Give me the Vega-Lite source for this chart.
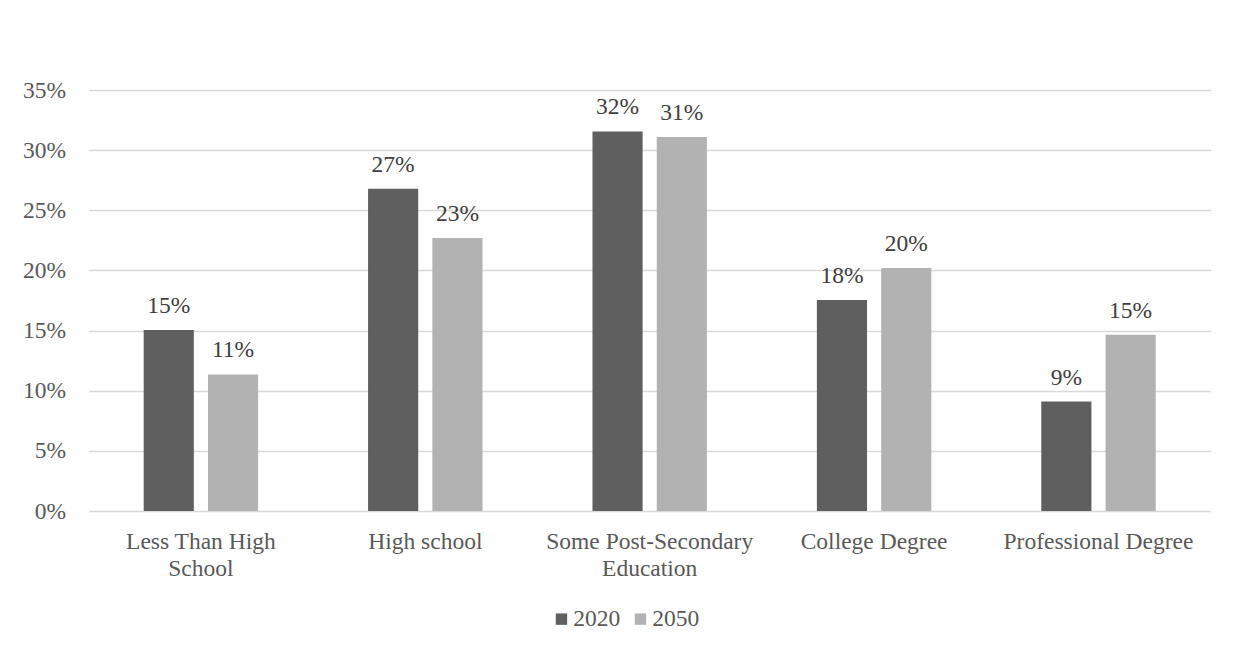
{
  "$schema": "https://vega.github.io/schema/vega-lite/v6.json",
  "autosize": {"type": "none"},
  "width": 1122,
  "height": 421,
  "padding": {"left": 88.7, "top": 90, "right": 23.3, "bottom": 140},
  "background": "#ffffff",
  "data": {
    "values": [
      {"level": "Less Than High School", "year": "2020", "share": 0.1505},
      {"level": "Less Than High School", "year": "2050", "share": 0.1135},
      {"level": "High school", "year": "2020", "share": 0.268},
      {"level": "High school", "year": "2050", "share": 0.227},
      {"level": "Some Post-Secondary Education", "year": "2020", "share": 0.3155},
      {"level": "Some Post-Secondary Education", "year": "2050", "share": 0.311},
      {"level": "College Degree", "year": "2020", "share": 0.1755},
      {"level": "College Degree", "year": "2050", "share": 0.202},
      {"level": "Professional Degree", "year": "2020", "share": 0.091},
      {"level": "Professional Degree", "year": "2050", "share": 0.1465}
    ]
  },
  "encoding": {
    "x": {
      "field": "level",
      "type": "nominal",
      "sort": null,
      "scale": {"paddingInner": 0.49, "paddingOuter": 0.245},
      "axis": {
        "title": null,
        "domain": false,
        "ticks": false,
        "labelAngle": 0,
        "labelPadding": 18,
        "labelLineHeight": 27,
        "labelLimit": 0,
        "labelExpr": "datum.value == 'Less Than High School' ? ['Less Than High', 'School'] : datum.value == 'Some Post-Secondary Education' ? ['Some Post-Secondary', 'Education'] : datum.value"
      }
    },
    "xOffset": {
      "field": "year",
      "type": "nominal",
      "scale": {"paddingInner": 0.22, "paddingOuter": 0}
    },
    "y": {
      "field": "share",
      "type": "quantitative",
      "scale": {"domain": [0, 0.35], "nice": false},
      "axis": {
        "title": null,
        "format": ".0%",
        "values": [0, 0.05, 0.1, 0.15, 0.2, 0.25, 0.3, 0.35],
        "domain": false,
        "ticks": false,
        "tickSize": 0,
        "labelPadding": 23,
        "grid": true
      }
    }
  },
  "layer": [
    {
      "mark": {"type": "bar"},
      "encoding": {
        "color": {
          "field": "year",
          "type": "nominal",
          "scale": {"domain": ["2020", "2050"], "range": ["#5f5f5f", "#b2b2b2"]},
          "legend": {
            "title": null,
            "orient": "none",
            "direction": "horizontal",
            "padding": 0,
            "legendX": 461,
            "legendY": 517,
            "symbolType": "square",
            "symbolSize": 130,
            "symbolStrokeWidth": 0,
            "labelOffset": 0,
            "columnPadding": 8
          }
        }
      }
    },
    {
      "mark": {"type": "text", "baseline": "alphabetic", "dy": -17, "color": "#404040", "fontSize": 23.5, "font": "Liberation Serif"},
      "encoding": {
        "text": {"field": "share", "type": "quantitative", "format": ".0%"}
      }
    }
  ],
  "config": {
    "view": {"stroke": null},
    "font": "Liberation Serif",
    "axis": {
      "labelFont": "Liberation Serif",
      "labelFontSize": 23.5,
      "labelColor": "#595959",
      "gridColor": "#d9d9d9",
      "gridWidth": 1.3
    },
    "legend": {
      "labelFont": "Liberation Serif",
      "labelFontSize": 23.5,
      "labelColor": "#595959"
    }
  }
}
